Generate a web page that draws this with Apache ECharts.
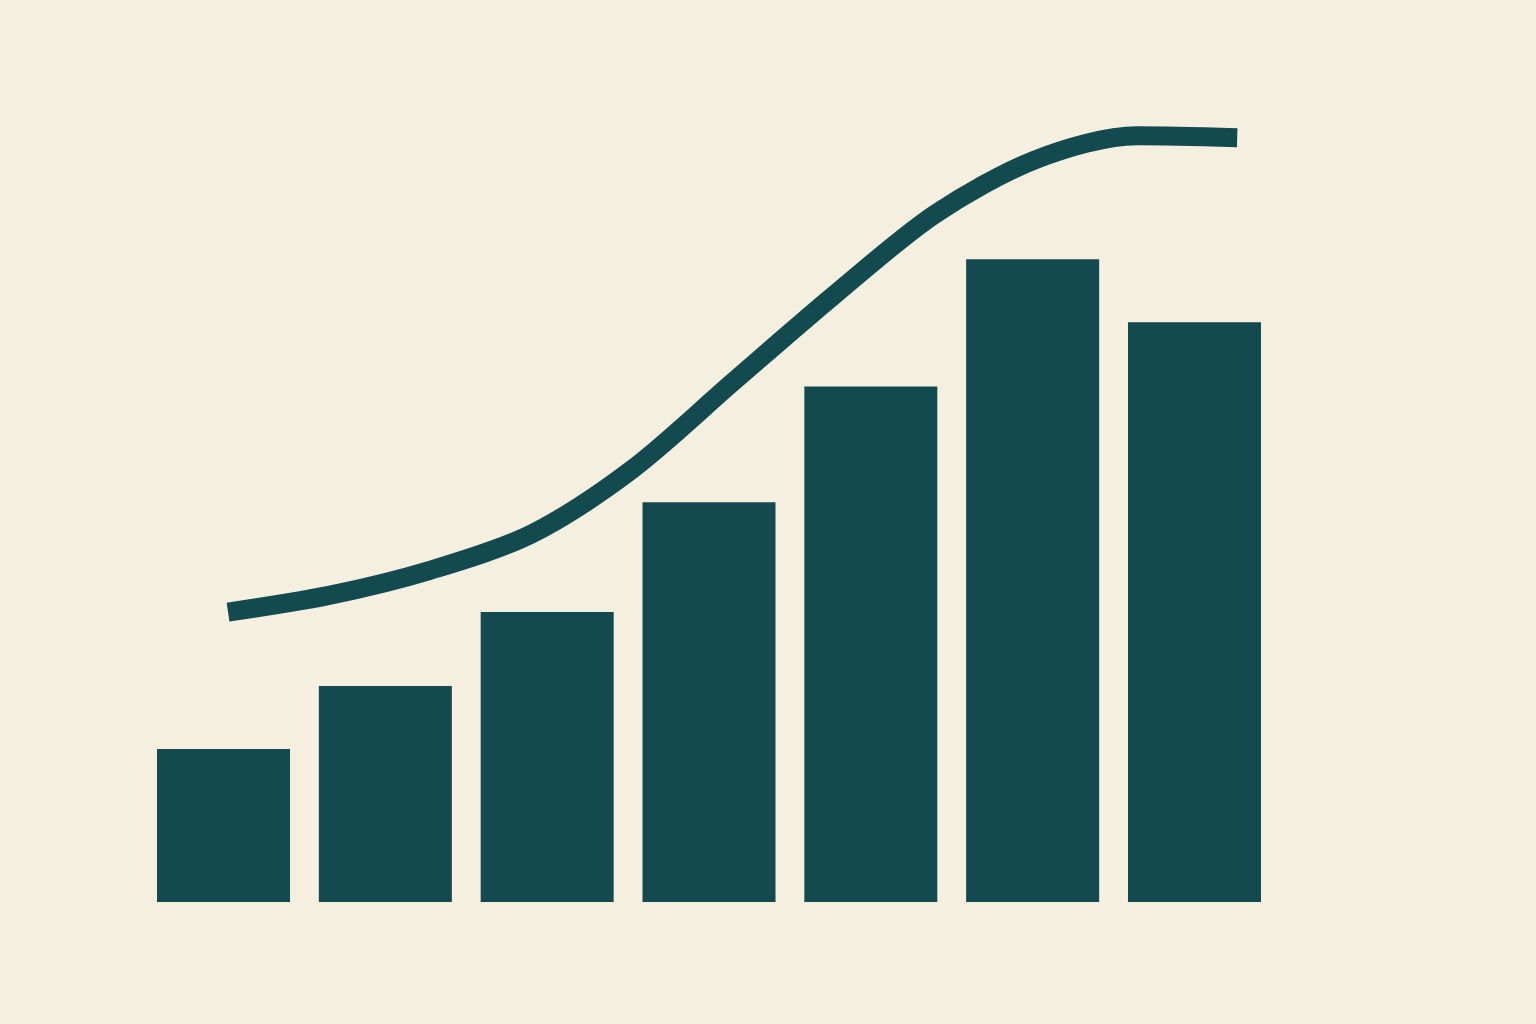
<!DOCTYPE html>
<html>
<head>
<meta charset="utf-8">
<style>
html,body{margin:0;padding:0;background:#F5EFDF;}
#c{width:1536px;height:1024px;}
</style>
<script src="https://cdn.jsdelivr.net/npm/echarts@6/dist/echarts.min.js"></script>
</head>
<body>
<div id="c"></div>
<script>
const categories = ['1','2','3','4','5','6','7'];
const barValues = [23.8, 33.6, 45.1, 62.2, 80.2, 100, 90.2];
const trendX = [0.528, 1.152, 1.776, 2.400, 3.025, 3.649, 4.273, 4.897, 5.521, 6.146, 6.764];
const trendY = [45.1, 47.7, 51.6, 57.2, 67.3, 80.9, 94.4, 107.0, 115.5, 119.2, 118.9];

const chart = echarts.init(document.getElementById('c'), null, {renderer:'canvas'});
chart.setOption({
  backgroundColor: '#F5EFDF',
  animation: false,
  grid: {left: 142.6, right: 260.6, top: 2, bottom: 122},
  xAxis: [
    {type:'category', data: categories, show:false, boundaryGap:true},
    {type:'value', min:0, max:7, show:false}
  ],
  yAxis: {type:'value', min:0, max:140, show:false},
  series: [
    {type:'bar', data: barValues, barWidth: 133, xAxisIndex:0,
     itemStyle:{color:'#134A50'}},
    {type:'line', xAxisIndex:1, data: trendX.map((x,i)=>[x, trendY[i]]),
     smooth: 0.3, symbol:'none',
     lineStyle:{color:'#134A50', width:19, cap:'butt', join:'round'}}
  ]
});
</script>
</body>
</html>
